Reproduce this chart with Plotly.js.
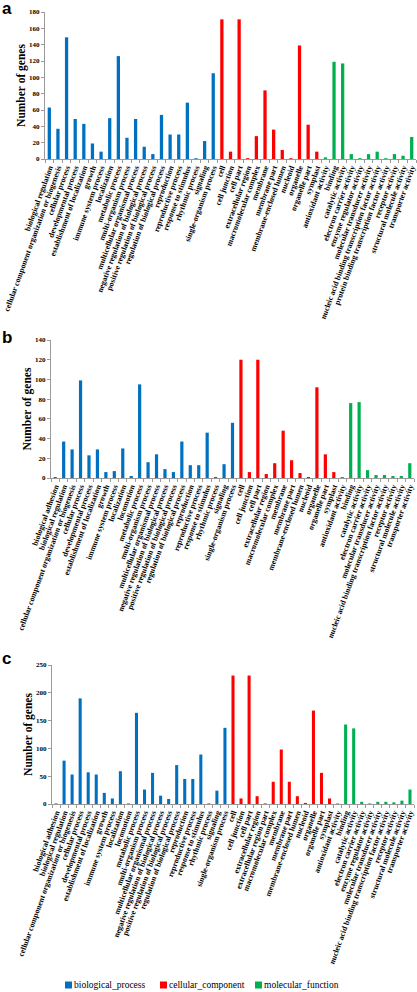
<!DOCTYPE html>
<html>
<head>
<meta charset="utf-8">
<script src="https://cdn.plot.ly/plotly-3.0.1.min.js"></script>
<style>
html, body { margin: 0; padding: 0; background: #fff; }
#chart { width: 417px; height: 992px; }
</style>
</head>
<body>
<div id="chart"></div>
<script>
// ---------- Data ----------
const seriesNames = ["biological_process", "cellular_component", "molecular_function"];
const seriesColors = ["#0070C0", "#FF0000", "#00B050"];

// Panel a
const bpCatsA = ["biological regulation","cellular component organization or biogenesis","cellular process","developmental process","establishment of localization","growth","immune system process","localization","metabolic process","multi-organism process","multicellular organismal process","negative regulation of biological process","positive regulation of biological process","regulation of biological process","reproduction","reproductive process","response to stimulus","rhythmic process","signaling","single-organism process"];
const bpValsA = [63,37,149,49,43,19,9,50,126,26,49,15,6,54,30,30,69,1,22,105];
const ccCatsA = ["cell","cell junction","cell part","extracellular region","macromolecular complex","membrane","membrane part","membrane-enclosed lumen","nucleoid","organelle","organelle part","symplast"];
const ccValsA = [171,9,171,1,28,84,36,11,1,139,42,9];
const mfCatsA = ["antioxidant activity","binding","catalytic activity","electron carrier activity","enzyme regulator activity","molecular transducer activity","nucleic acid binding transcription factor activity","protein binding transcription factor activity","receptor activity","structural molecule activity","transporter activity"];
const mfValsA = [2,119,117,6,1,6,9,1,6,4,27];

// Panel b
const bpCatsB = ["biological adhesion","biological regulation","cellular component organization or biogenesis","cellular process","developmental process","establishment of localization","growth","immune system process","localization","locomotion","metabolic process","multi-organism process","multicellular organismal process","negative regulation of biological process","positive regulation of biological process","regulation of biological process","reproduction","reproductive process","response to stimulus","rhythmic process","signaling","single-organism process"];
const bpValsB = [1,37,29,99,23,29,6,7,30,2,95,16,24,9,6,37,13,13,46,1,14,56];
const ccCatsB = ["cell","cell junction","cell part","extracellular region","macromolecular complex","membrane","membrane part","membrane-enclosed lumen","nucleoid","organelle","organelle part","symplast"];
const ccValsB = [120,6,120,4,15,48,18,5,1,92,24,6];
const mfCatsB = ["antioxidant activity","binding","catalytic activity","electron carrier activity","molecular transducer activity","nucleic acid binding transcription factor activity","receptor activity","structural molecule activity","transporter activity"];
const mfValsB = [1,76,77,8,3,3,2,2,15];

// Panel c
const bpCatsC = ["biological adhesion","biological regulation","cellular component organization or biogenesis","cellular process","developmental process","establishment of localization","growth","immune system process","localization","locomotion","metabolic process","multi-organism process","multicellular organismal process","negative regulation of biological process","positive regulation of biological process","regulation of biological process","reproduction","reproductive process","response to stimulus","rhythmic process","signaling","single-organism process"];
const bpValsC = [1,78,53,190,57,53,20,10,59,1,164,26,56,15,9,70,45,45,89,1,24,137];
const ccCatsC = ["cell","cell junction","cell part","extracellular region","extracellular region part","macromolecular complex","membrane","membrane part","membrane-enclosed lumen","nucleoid","organelle","organelle part","symplast"];
const ccValsC = [231,10,231,14,1,40,98,40,14,2,168,56,10];
const mfCatsC = ["antioxidant activity","binding","catalytic activity","electron carrier activity","enzyme regulator activity","molecular transducer activity","nucleic acid binding transcription factor activity","receptor activity","structural molecule activity","transporter activity"];
const mfValsC = [1,143,136,4,1,4,4,3,6,26];

const yTitle = "Number of genes";
const panelLetters = ["a", "b", "c"];

// ---------- Build ----------
const panels = [
  { cats: [bpCatsA, ccCatsA, mfCatsA], vals: [bpValsA, ccValsA, mfValsA], xa: "x",  ya: "y"  },
  { cats: [bpCatsB, ccCatsB, mfCatsB], vals: [bpValsB, ccValsB, mfValsB], xa: "x2", ya: "y2" },
  { cats: [bpCatsC, ccCatsC, mfCatsC], vals: [bpValsC, ccValsC, mfValsC], xa: "x3", ya: "y3" }
];

const traces = [];
panels.forEach((p, pi) => {
  for (let s = 0; s < 3; s++) {
    traces.push({
      type: "bar",
      name: seriesNames[s],
      x: p.cats[s],
      y: p.vals[s],
      xaxis: p.xa,
      yaxis: p.ya,
      marker: { color: seriesColors[s], line: { width: 0 } },
      legendgroup: seriesNames[s],
      showlegend: false,
      hoverinfo: "x+y"
    });
  }
});

const H = 992, W = 417;
const py = v => 1 - v / H;
const px = v => v / W;

const tickFontX = { family: "Liberation Serif", size: 7.9, color: "#000", weight: "bold" };
const tickFontY = { family: "Liberation Serif", size: 7, color: "#000", weight: "bold" };
const titleFont = { family: "Liberation Serif", size: 11.5, color: "#000", weight: "bold" };

function xAxis(cats, dom, anchor) {
  return {
    domain: dom, anchor: anchor, type: "category",
    categoryorder: "array", categoryarray: cats,
    tickmode: "array", tickvals: cats, ticktext: cats,
    tickangle: -70, tickfont: tickFontX, ticklabeloverflow: "allow",
    showline: true, linecolor: "#9a9a9a", linewidth: 1,
    ticks: "outside", ticklen: 3, tickcolor: "#9a9a9a", tickson: "boundaries",
    showgrid: false, zeroline: false, fixedrange: true
  };
}
function yAxis(range, dtick, dom, anchor) {
  return {
    domain: dom, anchor: anchor, range: range, dtick: dtick,
    tickfont: tickFontY,
    showline: true, linecolor: "#9a9a9a", linewidth: 1,
    ticks: "outside", ticklen: 3, tickcolor: "#9a9a9a",
    showgrid: false, zeroline: false, fixedrange: true,
    title: { text: yTitle, font: titleFont, standoff: 1 }
  };
}

const catsAll = panels.map(p => p.cats[0].concat(p.cats[1], p.cats[2]));

// Legend (drawn as squares + text)
const legendX = [65, 160, 255];
const legendY = 985;
const shapes = [];
const annotations = [];
seriesNames.forEach((n, i) => {
  shapes.push({
    type: "rect", xref: "paper", yref: "paper",
    x0: px(legendX[i]), x1: px(legendX[i] + 7),
    y0: py(legendY + 3.5), y1: py(legendY - 3.5),
    fillcolor: seriesColors[i], line: { width: 0 }
  });
  annotations.push({
    text: n, xref: "paper", yref: "paper",
    x: px(legendX[i] + 7.5), y: py(legendY), xanchor: "left", yanchor: "middle",
    showarrow: false, borderpad: 0,
    font: { family: "Liberation Serif", size: 9.5, color: "#000" }
  });
});

// Panel letters
const letterBottoms = [19, 348, 669];
panelLetters.forEach((L, i) => {
  annotations.push({
    text: L, xref: "paper", yref: "paper",
    x: px(1), y: py(letterBottoms[i]), xanchor: "left", yanchor: "bottom",
    showarrow: false, borderpad: 0,
    font: { family: "Liberation Sans", size: 17, color: "#000", weight: "bold" }
  });
});

const layout = {
  width: W, height: H,
  margin: { l: 0, r: 0, t: 0, b: 0 },
  paper_bgcolor: "#fff", plot_bgcolor: "#fff",
  barmode: "relative", bargap: 0.62,
  showlegend: false,
  xaxis:  xAxis(catsAll[0], [px(45), px(416)], "y"),
  yaxis:  yAxis([0, 180], 20, [py(159), py(12)], "x"),
  xaxis2: xAxis(catsAll[1], [px(51), px(414)], "y2"),
  yaxis2: yAxis([0, 140], 20, [py(478), py(340)], "x2"),
  xaxis3: xAxis(catsAll[2], [px(52), px(414)], "y3"),
  yaxis3: yAxis([0, 250], 50, [py(804), py(665)], "x3"),
  shapes: shapes,
  annotations: annotations
};

Plotly.newPlot("chart", traces, layout, { displayModeBar: false, staticPlot: true });
</script>
</body>
</html>
